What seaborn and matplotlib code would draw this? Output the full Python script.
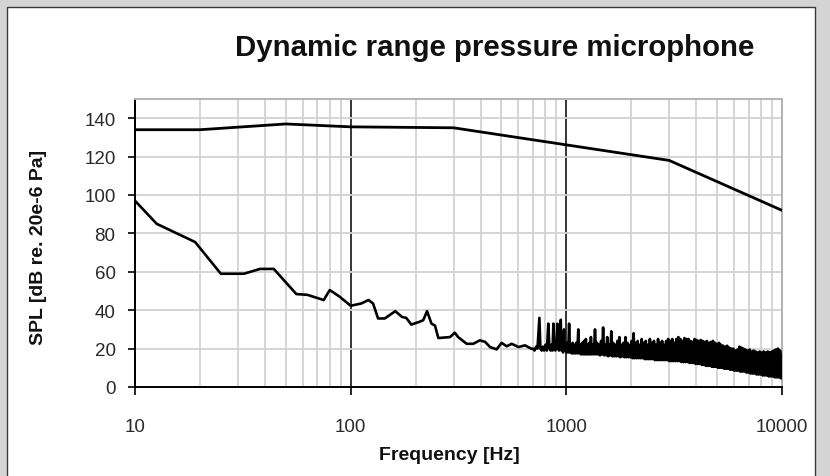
import matplotlib
matplotlib.use("Agg")
import matplotlib.pyplot as plt
from matplotlib.patches import Rectangle
from matplotlib.ticker import LogLocator, FixedLocator, NullFormatter, FixedFormatter
import seaborn as sns
import pandas as pd

# ---------------- data ----------------
title = "Dynamic range pressure microphone"
x_label = "Frequency [Hz]"
y_label = "SPL [dB re. 20e-6 Pa]"

x_ticks = [10, 100, 1000, 10000]
x_tick_labels = ["10", "100", "1000", "10000"]
y_ticks = [0, 20, 40, 60, 80, 100, 120, 140]

# maximum SPL
max_freq = [10, 20, 50, 100, 300, 3000, 10000]
max_spl = [134, 134, 137, 135.5, 135, 118, 92]

# noise floor, low-frequency part
noise_freq_a = [10, 12.6, 19, 25, 32, 38, 44, 56, 63, 75, 80, 89, 100, 112, 121,
                127, 134, 144, 161, 173, 181, 191, 209, 217, 226, 237, 246, 255,
                289, 304, 315, 345, 370, 397, 420, 443, 475, 501, 529, 558, 600,
                643, 689]
noise_spl_a = [97, 85, 75.5, 59, 59, 61.5, 61.5, 48.4, 48, 45.3, 50.5, 47, 42.3,
               43.5, 45.3, 43.5, 35.7, 35.7, 39.5, 36.5, 36, 32.5, 34, 34.8, 39.5,
               33, 32, 25.5, 26, 28.3, 26, 22.5, 22.5, 24.3, 23.5, 20.8, 19.6, 23,
               21.2, 22.5, 20.8, 21.7, 19.9]

# noise floor, spiky mid part
noise_freq_b = [700, 712, 724, 735, 750, 758, 768, 778, 788, 800, 812, 825, 835,
                845, 855, 863, 871, 880, 890, 899, 908, 916, 925, 933, 942, 950,
                958, 966, 976, 984, 992, 1000, 1010, 1020, 1030, 1040, 1050, 1060,
                1070, 1080, 1090, 1100, 1112, 1124, 1136, 1148, 1160, 1172, 1184,
                1196, 1208, 1220, 1232, 1242, 1254, 1266, 1278, 1290]
noise_spl_b = [20, 19, 21, 20, 36, 20, 19, 21, 19, 22, 19, 33, 20, 19, 22, 19, 33,
               20, 19, 21, 33, 20, 19, 22, 35, 19, 21, 18, 30, 19, 22, 18, 23, 18,
               33, 18, 22, 17.5, 23, 17.5, 22, 17.5, 23, 17.5, 30, 17.5, 22, 17, 23,
               17, 24, 17, 25, 17, 22, 17, 23, 17]

# noise floor, dense high-frequency part
noise_freq_c = [1300, 1314, 1329, 1343, 1358, 1373, 1388, 1403, 1418, 1433, 1449,
                1465, 1481, 1497, 1514, 1530, 1547, 1564, 1581, 1598, 1616, 1633,
                1651, 1669, 1687, 1705, 1724, 1743, 1762, 1781, 1801, 1820, 1840,
                1860, 1881, 1901, 1922, 1943, 1964, 1985, 2007, 2029, 2051, 2073,
                2096, 2119, 2142, 2165, 2189, 2213, 2237, 2261, 2286, 2311, 2336,
                2362, 2388, 2414, 2440, 2467, 2494, 2521, 2548, 2576, 2604, 2633,
                2662, 2691, 2720, 2750, 2780, 2810, 2841, 2872, 2903, 2935, 2967,
                2999, 3032, 3065, 3098, 3132, 3166, 3201, 3236, 3271, 3307, 3343,
                3379, 3416, 3454, 3491, 3529, 3568, 3607, 3646, 3686, 3726, 3767,
                3808, 3850, 3892, 3934, 3977, 4020, 4064, 4109, 4154, 4199, 4245,
                4291, 4338, 4385, 4433, 4481, 4530, 4580, 4630, 4680, 4731, 4783,
                4835, 4888, 4941, 4995, 5050, 5105, 5161, 5217, 5274, 5331, 5389,
                5448, 5508, 5568, 5629, 5690, 5752, 5815, 5878, 5942, 6007, 6073,
                6139, 6206, 6274, 6342, 6411, 6481, 6552, 6623, 6696, 6769, 6843,
                6917, 6993, 7069, 7146, 7224, 7303, 7383, 7464, 7545, 7628, 7711,
                7795, 7880, 7966, 8053, 8141, 8230, 8320, 8411, 8503, 8595, 8689,
                8784, 8880, 8977, 9075, 9174, 9274, 9375, 9478, 9581, 9686, 9791,
                9895, 10000]
noise_spl_c = [26, 17, 22, 17, 30, 17, 23, 17, 22, 16.5,
               24, 17, 31, 16.5, 22, 16.5, 26, 16, 22, 16.5,
               29, 16, 23, 16, 22, 16, 24, 16, 26, 15.5,
               22, 16, 23, 15.5, 26, 15.5, 23, 15.5, 22, 15.5,
               24, 15, 28, 15, 23, 15, 24, 15, 22, 15,
               25, 15, 23, 14.5, 24, 14.5, 22, 14.5, 25, 14.5,
               23, 14.5, 24, 14, 22, 14, 25, 14, 23, 14,
               24, 14, 22, 14, 24, 14, 25, 13.5, 24, 13.5,
               25, 13.5, 23, 13.5, 25, 13.5, 26, 13.5, 25, 13,
               24, 13, 25.5, 13, 25, 13, 25, 12.5, 24, 12.5,
               23.5, 12.5, 25, 12, 24.5, 12, 24, 12, 24.5, 11.5,
               24, 11.5, 23.5, 11, 24, 11, 23, 11, 23.5, 10.5,
               24, 10.5, 23, 10.5, 22.5, 10, 23, 10, 22, 10,
               21.5, 9.5, 21, 9.5, 21.5, 9.5, 20.5, 9, 20, 9,
               20, 8.5, 19, 8.5, 19.5, 8.5, 21, 8, 20.5, 8,
               20, 8, 19.5, 7.5, 19, 7.5, 19.5, 7, 18.5, 7,
               19, 7, 18.5, 6.5, 18, 6.5, 18.5, 6.5, 18, 6,
               18.5, 6, 18, 6, 18.5, 5.5, 18, 5.5, 18.5, 5.5,
               19, 5, 19.5, 5, 20, 5, 19, 4.5, 17]

df_max = pd.DataFrame({"freq": max_freq, "spl": max_spl})
df_noise = pd.DataFrame({"freq": noise_freq_a + noise_freq_b + noise_freq_c,
                         "spl": noise_spl_a + noise_spl_b + noise_spl_c})

# ---------------- style ----------------
sns.set_theme(style="white")
plt.rcParams["font.family"] = ["Liberation Sans", "DejaVu Sans"]

W, H = 830, 477
fig = plt.figure(figsize=(W / 100, H / 100), dpi=100)
fig.patch.set_facecolor("#d4d4d4")
fig.patches.append(Rectangle((7 / W, -0.05), (815 - 7) / W, 1.05 - 8 / H,
                             transform=fig.transFigure, facecolor="white",
                             edgecolor="#3a3a3a", linewidth=1.0, zorder=-5))

ax = fig.add_axes([135 / W, 1 - 388 / H, (782 - 135) / W, (388 - 100) / H])
ax.set_zorder(2)
ax.set_facecolor("white")
ax.set_xscale("log")

sns.lineplot(data=df_max, x="freq", y="spl", ax=ax, color="black", linewidth=2.0,
             estimator=None, sort=False, zorder=3)
sns.lineplot(data=df_noise, x="freq", y="spl", ax=ax, color="black", linewidth=1.9,
             estimator=None, sort=False, zorder=3)

ax.set_xlim(10, 10000)
ax.set_ylim(0, 150)

ax.xaxis.set_major_locator(FixedLocator(x_ticks))
ax.xaxis.set_major_formatter(FixedFormatter(x_tick_labels))
ax.xaxis.set_minor_locator(LogLocator(base=10, subs=[2, 3, 4, 5, 6, 7, 8, 9]))
ax.xaxis.set_minor_formatter(NullFormatter())
ax.set_yticks(y_ticks)

ax.grid(False)
ax.grid(which="minor", axis="x", color="#d2d2d2", linewidth=1.3, zorder=1)
ax.grid(which="major", axis="x", color="black", linewidth=1.1, zorder=2)
ax.grid(which="major", axis="y", color="#d2d2d2", linewidth=1.3, zorder=1)
ax.set_axisbelow(True)

for side in ["left", "bottom"]:
    ax.spines[side].set_color("black")
    ax.spines[side].set_linewidth(1.4)
for side in ["top", "right"]:
    ax.spines[side].set_color("#b4b4b4")
    ax.spines[side].set_linewidth(1.4)

ax.tick_params(axis="y", which="major", direction="out", length=5, width=1.2,
               color="black", pad=9, labelsize=13.5, labelcolor="#2a2a2a", left=True)
ax.tick_params(axis="x", which="major", direction="out", length=6, width=1.2,
               color="black", pad=16, labelsize=13.5, labelcolor="#2a2a2a", bottom=True)
ax.tick_params(axis="x", which="minor", length=0)

ax.set_xlabel(x_label, fontsize=14, fontweight="bold", color="#111111", labelpad=8)
ax.set_ylabel(y_label, fontsize=14, fontweight="bold", color="#111111", labelpad=10)
ax.xaxis.set_label_coords((449 - 135) / (782 - 135), -(447 - 388) / (388 - 100))
ax.yaxis.set_label_coords(-(135 - 47) / (782 - 135), (388 - 247) / (388 - 100))

fig.text(495 / W, 1 - 48 / H, title, fontsize=21.2, fontweight="bold",
         color="#111111", ha="center", va="center")

fig.savefig("out.png", dpi=100, facecolor=fig.get_facecolor())
